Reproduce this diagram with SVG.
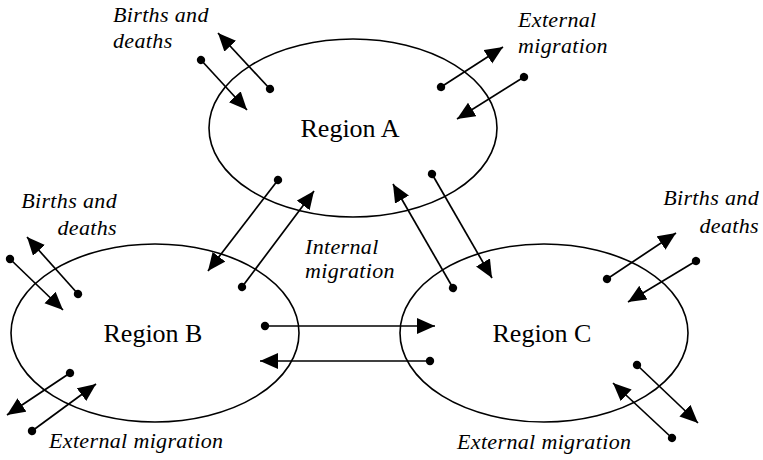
<svg xmlns="http://www.w3.org/2000/svg" width="763" height="460" viewBox="0 0 763 460">
<style>
.region{fill:none;stroke:#000;stroke-width:1.6}
text{font-family:'Liberation Serif','Times New Roman',Times,serif;fill:#000}
.name{font-size:26px;text-anchor:middle}
.lbl{font-size:22px;font-style:italic;letter-spacing:0.35px}
.flow line{stroke:#000;stroke-width:1.7;marker-start:url(#dot);marker-end:url(#head)}
</style>
<defs>
<marker id="head" markerUnits="userSpaceOnUse" markerWidth="19" markerHeight="17" refX="18" refY="8" orient="auto"><path d="M0,0 L18,8 L0,16 z" fill="#000"/></marker>
<marker id="dot" markerUnits="userSpaceOnUse" markerWidth="10" markerHeight="10" refX="5" refY="5" orient="auto"><circle cx="5" cy="5" r="4.2" fill="#000"/></marker>
</defs>
<g id="regionA"><ellipse class="region" cx="353" cy="128" rx="144" ry="89"/><text class="name" x="350" y="137">Region A</text></g>
<g id="regionB"><ellipse class="region" cx="155" cy="333" rx="144" ry="89"/><text class="name" x="153" y="342">Region B</text></g>
<g id="regionC"><ellipse class="region" cx="544" cy="333" rx="144" ry="89"/><text class="name" x="542" y="342">Region C</text></g>
<g id="labels">
<text class="lbl" x="113" y="22">Births and</text><text class="lbl" x="113" y="48">deaths</text>
<text class="lbl" x="518" y="27">External</text><text class="lbl" x="518" y="53">migration</text>
<text class="lbl" x="117" y="208" text-anchor="end">Births and</text><text class="lbl" x="117" y="235" text-anchor="end">deaths</text>
<text class="lbl" x="305" y="254">Internal</text><text class="lbl" x="305" y="278">migration</text>
<text class="lbl" x="759" y="205" text-anchor="end">Births and</text><text class="lbl" x="759" y="233" text-anchor="end">deaths</text>
<text class="lbl" x="49" y="448">External migration</text>
<text class="lbl" x="457" y="449">External migration</text>
</g>
<g id="connectors" class="flow">
<line x1="270" y1="89" x2="218" y2="33"/>
<line x1="201" y1="60" x2="247" y2="110"/>
<line x1="441" y1="87" x2="503" y2="47"/>
<line x1="524" y1="77" x2="457" y2="119"/>
<line x1="78" y1="294" x2="27" y2="237"/>
<line x1="10" y1="259" x2="63" y2="310"/>
<line x1="278" y1="180" x2="208" y2="271"/>
<line x1="242" y1="287" x2="314" y2="191"/>
<line x1="453" y1="288" x2="393" y2="184"/>
<line x1="432" y1="174" x2="492" y2="278"/>
<line x1="265" y1="326" x2="435" y2="326"/>
<line x1="430" y1="361" x2="260" y2="361"/>
<line x1="70" y1="373" x2="7" y2="415"/>
<line x1="32" y1="431" x2="96" y2="384"/>
<line x1="607" y1="279" x2="676" y2="233"/>
<line x1="696" y1="261" x2="628" y2="302"/>
<line x1="637" y1="365" x2="698" y2="423"/>
<line x1="672" y1="438" x2="613" y2="383"/>
</g>
</svg>
